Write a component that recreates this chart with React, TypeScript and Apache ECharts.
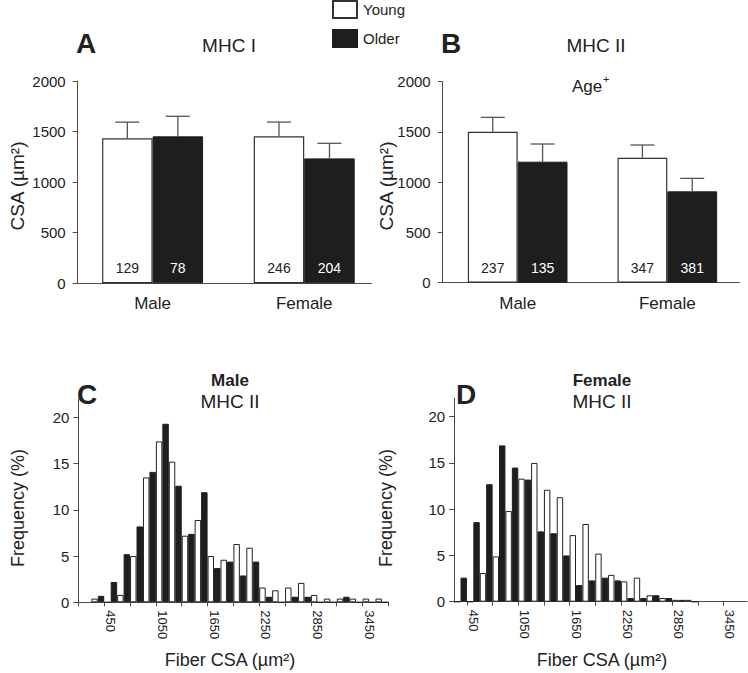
import React, { useEffect, useRef } from "react";
import * as echarts from "echarts";

// ---------- data ----------
const sexes = ["Male", "Female"];

// Panel A: MHC I fibre CSA (µm²)
const mhc1Young = [1433, 1453];
const mhc1YoungSem = [160, 141];
const mhc1Older = [1453, 1235];
const mhc1OlderSem = [198, 149];
const mhc1YoungN = [129, 246];
const mhc1OlderN = [78, 204];

// Panel B: MHC II fibre CSA (µm²)
const mhc2Young = [1502, 1244];
const mhc2YoungSem = [143, 126];
const mhc2Older = [1204, 909];
const mhc2OlderSem = [176, 129];
const mhc2YoungN = [237, 347];
const mhc2OlderN = [135, 381];

// Panel C: male MHC II frequency distribution (%), bins of 150 µm²
const binsMale = [300, 450, 600, 750, 900, 1050, 1200, 1350, 1500, 1650, 1800, 1950, 2100, 2250, 2400, 2550, 2700, 2850, 3000, 3150, 3300, 3450, 3600];
const maleYoungFreq = [0.4, 0, 0.8, 5.0, 13.5, 17.4, 15.2, 7.2, 8.9, 5.0, 4.6, 6.3, 5.9, 1.6, 1.3, 1.6, 2.1, 0.8, 0.4, 0.4, 0.4, 0.4, 0.4];
const maleOlderFreq = [0.7, 2.2, 5.2, 8.2, 14.1, 19.3, 12.6, 7.4, 11.9, 3.7, 4.4, 2.9, 4.4, 0.6, 0, 0.6, 0.6, 0, 0, 0.6, 0, 0, 0];

// Panel D: female MHC II frequency distribution (%)
const binsFemale = [300, 450, 600, 750, 900, 1050, 1200, 1350, 1500, 1650, 1800, 1950, 2100, 2250, 2400, 2550, 2700, 2850, 3000];
const femaleYoungFreq = [0, 0, 3.1, 4.9, 9.8, 13.3, 15.0, 12.1, 11.3, 7.2, 8.4, 5.2, 2.9, 2.2, 2.6, 0.7, 0.4, 0.2, 0.2];
const femaleOlderFreq = [2.6, 8.6, 12.7, 16.9, 14.5, 13.2, 7.6, 7.4, 5.0, 1.8, 2.3, 2.6, 2.3, 0.4, 0.4, 0.7, 0.4, 0.2, 0];

// axis ticks / labels
const csaTicks = [0, 500, 1000, 1500, 2000];
const freqTicks = [0, 5, 10, 15, 20];
const histLabelValues = [450, 1050, 1650, 2250, 2850, 3450];
const histTickValues = [75, 375, 675, 975, 1275, 1575, 1875, 2175, 2475, 2775, 3075, 3375, 3675];

// ---------- styles ----------
const FONT = "'Liberation Sans', Arial, Helvetica, sans-serif";
const INK = "#222";
const AXIS = "#4a4a4a";
const BLACK = "#1e1e1e";

export default function App() {
  const ref = useRef<HTMLDivElement>(null);

  useEffect(() => {
    if (!ref.current) return;
    const chart = echarts.init(ref.current, null, { renderer: "svg" });

    const axisLine = { show: true, onZero: false, lineStyle: { color: AXIS, width: 1 } };
    const plain = (v: number) => String(v);

    const barXAxis = (gridIndex: number, min: number, max: number) => ({
      gridIndex,
      type: "value",
      min,
      max,
      axisLine,
      axisTick: { show: false },
      splitLine: { show: false },
      axisLabel: {
        customValues: [0, 1],
        formatter: (v: number) => sexes[Math.round(v)] ?? "",
        fontSize: 17,
        color: INK,
        margin: 12,
      },
    });

    const barYAxis = (gridIndex: number) => ({
      gridIndex,
      type: "value",
      min: 0,
      max: 2000,
      axisLine,
      axisTick: { show: true, length: 5, lineStyle: { color: AXIS }, customValues: csaTicks },
      splitLine: { show: false },
      axisLabel: { customValues: csaTicks, formatter: plain, fontSize: 15, color: INK, margin: 12 },
    });

    const histXAxis = (gridIndex: number, min: number, max: number) => ({
      gridIndex,
      type: "value",
      min,
      max,
      axisLine,
      axisTick: { show: true, length: 4, lineStyle: { color: AXIS }, customValues: histTickValues.filter((v) => v >= min && v <= max) },
      splitLine: { show: false },
      axisLabel: { customValues: histLabelValues, formatter: plain, rotate: -90, fontSize: 13, color: INK, margin: 8 },
    });

    const histYAxis = (gridIndex: number) => ({
      gridIndex,
      type: "value",
      min: 0,
      max: 22,
      axisLine,
      axisTick: { show: true, length: 5, lineStyle: { color: AXIS }, customValues: freqTicks },
      splitLine: { show: false },
      axisLabel: { customValues: freqTicks, formatter: plain, fontSize: 15, color: INK, margin: 9 },
    });

    const youngStyle = { color: "#fff", borderColor: "#333", borderWidth: 1.2 };
    const olderStyle = { color: BLACK, borderColor: BLACK, borderWidth: 1 };

    const meanBar = (
      name: string,
      idx: number,
      values: number[],
      ns: number[],
      style: any,
      labelColor: string
    ) => ({
      type: "bar",
      name,
      xAxisIndex: idx,
      yAxisIndex: idx,
      barWidth: "33.3%",
      barGap: "0%",
      itemStyle: style,
      z: 2,
      label: {
        show: true,
        position: "insideBottom",
        distance: 8,
        fontSize: 14,
        color: labelColor,
        formatter: (p: any) => String(ns[p.dataIndex]),
      },
      data: values.map((v, i) => [i, v]),
    });

    const errorSeries = (idx: number, ym: number[], ys: number[], om: number[], os: number[]) => ({
      type: "custom",
      name: "err" + idx,
      xAxisIndex: idx,
      yAxisIndex: idx,
      z: 3,
      silent: true,
      encode: { x: 0, y: 1 },
      renderItem: (_params: any, api: any) => {
        const x = api.value(0);
        const m = api.value(1);
        const e = api.value(2);
        const side = api.value(3);
        const unit = api.size([1, 0])[0];
        const base = api.coord([x, m]);
        const top = api.coord([x, m + e]);
        const cx = base[0] + side * unit * 0.333 * 0.5;
        const style = { stroke: "#555", lineWidth: 1.3 };
        return {
          type: "group",
          children: [
            { type: "line", shape: { x1: cx, y1: base[1], x2: cx, y2: top[1] }, style },
            { type: "line", shape: { x1: cx - 12, y1: top[1], x2: cx + 12, y2: top[1] }, style },
          ],
        };
      },
      data: [
        ...ym.map((v, i) => [i, v, ys[i], -1]),
        ...om.map((v, i) => [i, v, os[i], 1]),
      ],
    });

    const histBar = (name: string, idx: number, bins: number[], vals: number[], style: any) => ({
      type: "bar",
      name,
      xAxisIndex: idx,
      yAxisIndex: idx,
      barWidth: "50%",
      barGap: "0%",
      itemStyle: style,
      data: bins.map((b, i) => [b, vals[i]]),
    });

    const histYoung = { color: "#fff", borderColor: "#222", borderWidth: 1 };
    const histOlder = { color: BLACK, borderColor: BLACK, borderWidth: 1 };

    const txt = (text: string, x: number, y: number, size: number, bold = false, extra: any = {}) => ({
      type: "text",
      x,
      y,
      ...extra,
      style: {
        text,
        fontSize: size,
        fontWeight: bold ? "bold" : "normal",
        fontFamily: FONT,
        fill: INK,
        textAlign: extra.textAlign ?? "center",
        textVerticalAlign: "middle",
      },
    });

    const option: any = {
      animation: false,
      backgroundColor: "#fff",
      textStyle: { fontFamily: FONT, color: INK },
      legend: {
        data: ["Young", "Older"],
        orient: "vertical",
        left: 332,
        top: 0,
        padding: 0,
        itemWidth: 24,
        itemHeight: 17,
        itemGap: 10,
        icon: "rect",
        textStyle: { fontSize: 15, color: INK, padding: [0, 0, 0, 1] },
        selectedMode: false,
      },
      grid: [
        { left: 77.7, top: 81, width: 294, height: 202.3 },
        { left: 442.7, top: 81.7, width: 296.6, height: 201 },
        { left: 78.4, top: 398.8, width: 310, height: 203.5 },
        { left: 454.1, top: 398.2, width: 293, height: 203.5 },
      ],
      xAxis: [
        barXAxis(0, -0.494, 1.445),
        barXAxis(1, -0.501, 1.481),
        histXAxis(2, 75, 3675),
        histXAxis(3, 225, 3650),
      ],
      yAxis: [barYAxis(0), barYAxis(1), histYAxis(2), histYAxis(3)],
      series: [
        meanBar("Young", 0, mhc1Young, mhc1YoungN, youngStyle, INK),
        meanBar("Older", 0, mhc1Older, mhc1OlderN, olderStyle, "#fff"),
        errorSeries(0, mhc1Young, mhc1YoungSem, mhc1Older, mhc1OlderSem),
        meanBar("Young", 1, mhc2Young, mhc2YoungN, youngStyle, INK),
        meanBar("Older", 1, mhc2Older, mhc2OlderN, olderStyle, "#fff"),
        errorSeries(1, mhc2Young, mhc2YoungSem, mhc2Older, mhc2OlderSem),
        histBar("Young", 2, binsMale, maleYoungFreq, histYoung),
        histBar("Older", 2, binsMale, maleOlderFreq, histOlder),
        histBar("Young", 3, binsFemale, femaleYoungFreq, histYoung),
        histBar("Older", 3, binsFemale, femaleOlderFreq, histOlder),
      ],
      graphic: [
        txt("A", 86, 43, 28, true),
        txt("MHC I", 229, 45, 19),
        txt("B", 451, 43, 28, true),
        txt("MHC II", 596, 45, 19),
        txt("Age", 572, 86, 17, false, { textAlign: "left" }),
        txt("+", 603, 79, 11, false, { textAlign: "left" }),
        txt("CSA (µm²)", 17.5, 186, 19, false, { rotation: Math.PI / 2 }),
        txt("CSA (µm²)", 386, 186, 19, false, { rotation: Math.PI / 2 }),
        txt("C", 87, 394, 28, true),
        txt("Male", 230, 380, 17, true),
        txt("MHC II", 230, 401, 19),
        txt("D", 466, 394, 28, true),
        txt("Female", 602, 380, 17, true),
        txt("MHC II", 602, 401, 19),
        txt("Frequency (%)", 18, 508, 18, false, { rotation: Math.PI / 2 }),
        txt("Frequency (%)", 386, 508, 18, false, { rotation: Math.PI / 2 }),
        txt("Fiber CSA (µm²)", 230, 660, 18),
        txt("Fiber CSA (µm²)", 602, 660, 18),
      ],
    };

    chart.setOption(option);
    return () => chart.dispose();
  }, []);

  return (
    <div
      ref={ref}
      style={{ position: "fixed", left: 0, top: 0, width: 748, height: 673, background: "#fff" }}
    />
  );
}
